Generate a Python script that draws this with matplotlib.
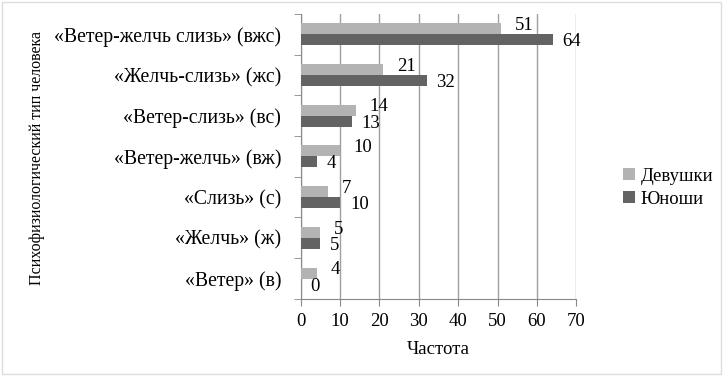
import matplotlib.pyplot as plt
import numpy as np
from matplotlib.patches import Rectangle

plt.rcParams['font.family'] = ['Liberation Serif', 'DejaVu Serif']

categories = ['«Ветер» (в)', '«Желчь» (ж)', '«Слизь» (с)', '«Ветер-желчь» (вж)',
              '«Ветер-слизь» (вс)', '«Желчь-слизь» (жс)', '«Ветер-желчь слизь» (вжс)']
girls = [4, 5, 7, 10, 14, 21, 51]
boys = [0, 5, 10, 4, 13, 32, 64]
x_ticks = [0, 10, 20, 30, 40, 50, 60, 70]

c_girls = '#b3b3b3'
c_boys = '#636363'

fig = plt.figure(figsize=(7.23, 3.76), dpi=100)
ax = fig.add_axes([0.416, 0.205, 0.381, 0.758])

y = np.arange(len(categories))
h = 0.27
ax.barh(y + h / 2, girls, height=h, color=c_girls, label='Девушки', zorder=3)
ax.barh(y - h / 2, boys, height=h, color=c_boys, label='Юноши', zorder=3)

fs = 13.5
for i in range(len(categories)):
    ax.text(girls[i] + 3.5, y[i] + h / 2 + 0.08, str(girls[i]), va='center', ha='left',
            fontsize=fs, zorder=4)
    ax.text(boys[i] + 2.5, y[i] - h / 2 - 0.05, str(boys[i]), va='center', ha='left',
            fontsize=fs, zorder=4)

ax.set_xlim(0, 70)
ax.set_ylim(-0.5, len(categories) - 0.5)
ax.set_xticks(x_ticks)
ax.set_xticklabels([str(t) for t in x_ticks], fontsize=fs)
ax.set_yticks(y)
ax.set_yticklabels(categories, fontsize=14.2)
ax.tick_params(axis='y', length=0, pad=14)
ax.set_yticks(np.arange(-0.5, len(categories), 1), minor=True)
ax.tick_params(axis='y', which='minor', length=5, color='#888888', direction='out')
ax.tick_params(axis='x', length=5, color='#888888', direction='out', pad=5)
ax.grid(axis='x', color='#a0a0a0', linewidth=1, zorder=0)

for s in ['top', 'right']:
    ax.spines[s].set_visible(False)
ax.spines['left'].set_color('#888888')
ax.spines['bottom'].set_color('#888888')

ax.set_xlabel('Частота', fontsize=fs, labelpad=8)
fig.text(0.051, 0.58, 'Психофизиологический тип человека', rotation=90,
         ha='center', va='center', fontsize=11.5)

ax.legend(loc='center left', bbox_to_anchor=(1.11, 0.39), frameon=False,
          fontsize=fs, handlelength=0.6, handleheight=0.6, handletextpad=0.3,
          labelspacing=0.3)

fig.patches.append(Rectangle((0.003, 0.005), 0.994, 0.99, transform=fig.transFigure,
                             fill=False, edgecolor='#dddddd', linewidth=1))

fig.savefig('out.png', dpi=100)
